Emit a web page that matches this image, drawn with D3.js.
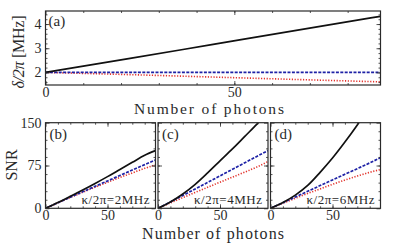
<!DOCTYPE html>
<html>
<head>
<meta charset="utf-8">
<script src="https://cdn.jsdelivr.net/npm/d3@7"></script>
<style>
  body { margin: 0; background: #fff; }
</style>
</head>
<body>
<div id="graph"></div>
<script>
// photon numbers sampled for panel (a)
var photonsA = [0, 22, 44, 66, 88.7];
var shiftSolid = [2.0, 2.57, 3.15, 3.73, 4.32];
var shiftDashed = [2.0, 2.0, 2.0, 2.0, 2.0];
var shiftDotted = [2.0, 1.91, 1.81, 1.71, 1.61];

// photon numbers sampled for SNR panels
var photonsB = [0, 10, 20, 30, 40, 50, 60, 70, 80, 88.7];
var kappaLabels = ["κ/2π=2MHz", "κ/2π=4MHz", "κ/2π=6MHz"];
var panelTags = ["(b)", "(c)", "(d)"];
var snrSolid = [
  [0, 10, 21, 32, 43.5, 55.5, 68, 80.5, 93, 101],
  [0, 11, 25, 42, 62, 83, 104, 126, 148, 168],
  [0, 10, 23, 40, 63, 88, 116, 146, 178, 206]
];
var snrDashed = [
  [0, 9.7, 19.4, 29, 38.6, 48, 57.5, 67, 76.5, 84.6],
  [0, 11.2, 22.5, 33.9, 45.3, 56.8, 68.3, 79.8, 91.3, 101],
  [0, 9.8, 19.8, 29.8, 39.8, 49.7, 59.6, 69.5, 79.5, 88.7]
];
var snrDotted = [
  [0, 9.6, 19, 28, 37, 45.5, 54, 62, 70, 76],
  [0, 9.4, 18.7, 27.8, 36.8, 45.8, 54.6, 63.4, 72.6, 82],
  [0, 9, 17.5, 26, 34, 42, 49.5, 56.5, 63, 68]
];

var xMax = 88.7;
var blue = "#1e22a6", red = "#e2332c", ink = "#2a2a2a";
var serif = "Liberation Serif, DejaVu Serif, serif";

var svg = d3.select("#graph").append("svg")
    .attr("width", 395)
    .attr("height", 247)
    .attr("font-family", serif);

var defs = svg.append("defs");

// draws the boxed frame with inward ticks on all four sides
function frame(g, x, y, w, h, xMajor, xMinor, yMajor, yMinor, showYLabels, yFmt) {
  g.append("g").attr("transform", "translate(0," + h + ")")
    .call(d3.axisBottom(x).tickValues(xMinor).tickSize(-2).tickFormat(""));
  g.append("g").attr("transform", "translate(0," + h + ")")
    .call(d3.axisBottom(x).tickValues(xMajor).tickSize(-4).tickPadding(2).tickFormat(d3.format("d")));
  g.append("g")
    .call(d3.axisTop(x).tickValues(xMinor).tickSize(-2).tickFormat(""));
  g.append("g")
    .call(d3.axisTop(x).tickValues(xMajor).tickSize(-4).tickFormat(""));
  g.append("g")
    .call(d3.axisLeft(y).tickValues(yMinor).tickSize(-2).tickFormat(""));
  g.append("g")
    .call(d3.axisLeft(y).tickValues(yMajor).tickSize(-4).tickPadding(4)
      .tickFormat(showYLabels ? yFmt : ""));
  g.append("g").attr("transform", "translate(" + w + ",0)")
    .call(d3.axisRight(y).tickValues(yMinor).tickSize(-2).tickFormat(""));
  g.append("g").attr("transform", "translate(" + w + ",0)")
    .call(d3.axisRight(y).tickValues(yMajor).tickSize(-4).tickFormat(""));
  g.selectAll(".domain").remove();
  g.selectAll("g").attr("font-family", serif);
  g.selectAll(".tick line").attr("stroke", ink).attr("stroke-width", 0.8);
  g.selectAll(".tick text").attr("font-size", 14).attr("fill", ink);
  g.append("rect").attr("width", w).attr("height", h)
    .attr("fill", "none").attr("stroke", ink).attr("stroke-width", 1.2);
}

function drawLines(g, xs, x, y, solid, dashed, dotted, clipId) {
  var line = d3.line()
      .x(function(d, i) { return x(xs[i]); })
      .y(function(d) { return y(d); })
      .curve(d3.curveMonotoneX);
  var lg = g.append("g").attr("clip-path", "url(#" + clipId + ")");
  lg.append("path").datum(dotted).attr("d", line)
    .attr("fill", "none").attr("stroke", red).attr("stroke-width", 1.6)
    .attr("stroke-dasharray", "1.2,1.6");
  lg.append("path").datum(dashed).attr("d", line)
    .attr("fill", "none").attr("stroke", blue).attr("stroke-width", 1.7)
    .attr("stroke-dasharray", "3,1.4");
  lg.append("path").datum(solid).attr("d", line)
    .attr("fill", "none").attr("stroke", "#111").attr("stroke-width", 1.7);
}

// ---- panel (a)
var aLeft = 45.5, aTop = 11, aW = 335, aH = 74;
var xa = d3.scaleLinear().domain([0, xMax]).range([0, aW]);
var ya = d3.scaleLinear().domain([1.48, 4.54]).range([aH, 0]);
var ga = svg.append("g").attr("transform", "translate(" + aLeft + "," + aTop + ")");
defs.append("clipPath").attr("id", "clipa").append("rect").attr("width", aW).attr("height", aH);
drawLines(ga, photonsA, xa, ya, shiftSolid, shiftDashed, shiftDotted, "clipa");
frame(ga, xa, ya, aW, aH, [0, 50], d3.range(10, 89, 10), [2, 3, 4],
  d3.range(1.6, 4.5, 0.2), true, d3.format("d"));
ga.append("text").attr("x", 3).attr("y", 15).attr("font-size", 15).attr("fill", ink).text("(a)");

svg.append("text")
    .attr("x", 209).attr("y", 114)
    .attr("text-anchor", "middle").attr("font-size", 15.5)
    .attr("fill", ink)
    .attr("textLength", 150).attr("lengthAdjust", "spacing")
    .text("Number of photons");

var yl = svg.append("text")
    .attr("transform", "translate(24,52) rotate(-90)")
    .attr("text-anchor", "middle").attr("font-size", 16)
    .attr("fill", ink)
    .attr("textLength", 73).attr("lengthAdjust", "spacing");
yl.append("tspan").attr("font-style", "italic").text("δ/2π");
yl.append("tspan").text(" [MHz]");

// ---- SNR panels
var bTop = 122.7, bH = 85.6, bW = 110;
var bLefts = [45.5, 158, 270.5];
var yb = d3.scaleLinear().domain([0, 150]).range([bH, 0]);
var xb = d3.scaleLinear().domain([0, xMax]).range([0, bW]);

bLefts.forEach(function(left, k) {
  var g = svg.append("g").attr("transform", "translate(" + left + "," + bTop + ")");
  defs.append("clipPath").attr("id", "clipb" + k).append("rect").attr("width", bW).attr("height", bH);
  drawLines(g, photonsB, xb, yb, snrSolid[k], snrDashed[k], snrDotted[k], "clipb" + k);
  frame(g, xb, yb, bW, bH, [0, 50], d3.range(10, 89, 10), [0, 75, 150],
    d3.range(15, 150, 15), k === 0, d3.format("d"));
  g.append("text").attr("x", 4).attr("y", 16).attr("font-size", 15).attr("fill", ink).text(panelTags[k]);
  g.append("text").attr("x", bW - 6).attr("y", bH - 4)
    .attr("text-anchor", "end").attr("font-size", 13)
    .attr("fill", ink)
    .attr("textLength", 68).attr("lengthAdjust", "spacing")
    .text(kappaLabels[k]);
});

svg.append("text")
    .attr("x", 213).attr("y", 239)
    .attr("text-anchor", "middle").attr("font-size", 16)
    .attr("fill", ink)
    .attr("textLength", 142).attr("lengthAdjust", "spacing")
    .text("Number of photons");

svg.append("text")
    .attr("transform", "translate(17,165) rotate(-90)")
    .attr("text-anchor", "middle").attr("font-size", 16)
    .attr("fill", ink)
    .text("SNR");
</script>
</body>
</html>
